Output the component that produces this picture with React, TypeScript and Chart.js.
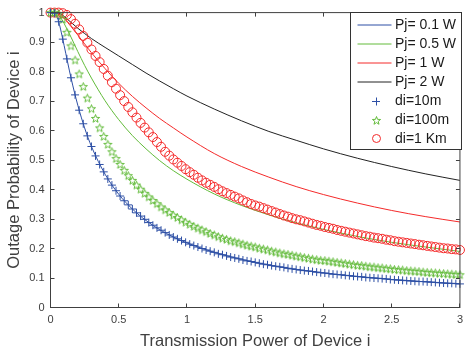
import React, { useEffect, useRef } from 'react';
import { Chart, registerables } from 'chart.js';

Chart.register(...registerables);

// ---- data ----
const lineX = [0, 0.02, 0.04, 0.06, 0.08, 0.1, 0.15, 0.2, 0.25, 0.3, 0.4, 0.5, 0.6, 0.7, 0.8, 0.9, 1.0, 1.2, 1.4, 1.6, 1.8, 2.0, 2.25, 2.5, 2.75, 3.0];
const pj01 = [1, 1.0, 0.993, 0.969, 0.931, 0.888, 0.779, 0.686, 0.609, 0.546, 0.452, 0.384, 0.334, 0.295, 0.264, 0.239, 0.219, 0.187, 0.163, 0.144, 0.129, 0.117, 0.105, 0.095, 0.087, 0.080];
const pj05 = [1, 1.0, 0.998, 0.991, 0.979, 0.963, 0.917, 0.868, 0.821, 0.778, 0.701, 0.637, 0.583, 0.538, 0.498, 0.464, 0.435, 0.385, 0.346, 0.314, 0.287, 0.265, 0.241, 0.221, 0.205, 0.190];
const pj1 = [1, 1.0, 0.999, 0.995, 0.989, 0.980, 0.953, 0.924, 0.894, 0.864, 0.810, 0.760, 0.716, 0.677, 0.641, 0.609, 0.578, 0.522, 0.478, 0.442, 0.410, 0.383, 0.354, 0.329, 0.308, 0.290];
const pj2 = [1, 1.0, 1.0, 0.998, 0.994, 0.987, 0.967, 0.947, 0.929, 0.912, 0.882, 0.853, 0.824, 0.795, 0.768, 0.742, 0.717, 0.673, 0.633, 0.597, 0.567, 0.538, 0.506, 0.478, 0.453, 0.431];

const markerX = [0, 0.03, 0.06, 0.09, 0.12, 0.15, 0.18, 0.21, 0.24, 0.27, 0.3, 0.33, 0.36, 0.39, 0.42, 0.45, 0.48, 0.51, 0.54, 0.57, 0.6, 0.63, 0.66, 0.69, 0.72, 0.75, 0.78, 0.81, 0.84, 0.87, 0.9, 0.93, 0.96, 0.99, 1.02, 1.05, 1.08, 1.11, 1.14, 1.17, 1.2, 1.23, 1.26, 1.29, 1.32, 1.35, 1.38, 1.41, 1.44, 1.47, 1.5, 1.53, 1.56, 1.59, 1.62, 1.65, 1.68, 1.71, 1.74, 1.77, 1.8, 1.83, 1.86, 1.89, 1.92, 1.95, 1.98, 2.01, 2.04, 2.07, 2.1, 2.13, 2.16, 2.19, 2.22, 2.25, 2.28, 2.31, 2.34, 2.37, 2.4, 2.43, 2.46, 2.49, 2.52, 2.55, 2.58, 2.61, 2.64, 2.67, 2.7, 2.73, 2.76, 2.79, 2.82, 2.85, 2.88, 2.91, 2.94, 2.97, 3];
const di10m = [1, 0.998, 0.969, 0.910, 0.843, 0.779, 0.721, 0.669, 0.623, 0.582, 0.546, 0.514, 0.485, 0.460, 0.436, 0.415, 0.396, 0.378, 0.362, 0.348, 0.334, 0.321, 0.310, 0.299, 0.288, 0.279, 0.270, 0.262, 0.254, 0.246, 0.239, 0.233, 0.227, 0.221, 0.215, 0.210, 0.205, 0.200, 0.195, 0.191, 0.187, 0.182, 0.179, 0.175, 0.171, 0.168, 0.165, 0.161, 0.158, 0.156, 0.153, 0.150, 0.147, 0.145, 0.142, 0.140, 0.138, 0.136, 0.133, 0.131, 0.129, 0.127, 0.125, 0.124, 0.122, 0.120, 0.118, 0.117, 0.115, 0.113, 0.112, 0.111, 0.109, 0.108, 0.106, 0.105, 0.104, 0.102, 0.101, 0.100, 0.099, 0.098, 0.097, 0.095, 0.094, 0.093, 0.092, 0.091, 0.090, 0.089, 0.088, 0.088, 0.087, 0.086, 0.085, 0.084, 0.083, 0.082, 0.082, 0.081, 0.080];
const di100m = [1, 1, 0.996, 0.977, 0.933, 0.887, 0.839, 0.792, 0.749, 0.710, 0.674, 0.641, 0.609, 0.580, 0.553, 0.528, 0.505, 0.485, 0.465, 0.447, 0.431, 0.415, 0.401, 0.387, 0.375, 0.363, 0.352, 0.341, 0.331, 0.322, 0.313, 0.305, 0.297, 0.289, 0.282, 0.275, 0.269, 0.263, 0.257, 0.251, 0.246, 0.240, 0.235, 0.231, 0.226, 0.223, 0.219, 0.215, 0.211, 0.208, 0.205, 0.201, 0.198, 0.195, 0.191, 0.188, 0.185, 0.182, 0.180, 0.177, 0.174, 0.172, 0.169, 0.167, 0.164, 0.162, 0.160, 0.159, 0.157, 0.155, 0.153, 0.151, 0.149, 0.147, 0.145, 0.143, 0.142, 0.140, 0.138, 0.137, 0.135, 0.134, 0.132, 0.131, 0.129, 0.128, 0.127, 0.125, 0.124, 0.123, 0.122, 0.120, 0.119, 0.118, 0.117, 0.116, 0.115, 0.114, 0.113, 0.112, 0.111];
const di1km = [1, 1, 1, 0.998, 0.992, 0.978, 0.962, 0.943, 0.921, 0.898, 0.875, 0.853, 0.832, 0.809, 0.786, 0.764, 0.742, 0.720, 0.700, 0.680, 0.662, 0.644, 0.626, 0.610, 0.594, 0.578, 0.561, 0.545, 0.528, 0.515, 0.502, 0.491, 0.480, 0.469, 0.459, 0.450, 0.440, 0.431, 0.423, 0.416, 0.409, 0.401, 0.394, 0.388, 0.382, 0.376, 0.370, 0.363, 0.357, 0.351, 0.346, 0.342, 0.337, 0.332, 0.327, 0.322, 0.317, 0.312, 0.308, 0.303, 0.299, 0.296, 0.292, 0.288, 0.284, 0.280, 0.277, 0.273, 0.270, 0.267, 0.263, 0.260, 0.257, 0.254, 0.251, 0.248, 0.245, 0.242, 0.240, 0.237, 0.235, 0.233, 0.230, 0.228, 0.225, 0.223, 0.221, 0.219, 0.217, 0.215, 0.213, 0.211, 0.209, 0.207, 0.205, 0.203, 0.201, 0.200, 0.198, 0.197, 0.195];

const xTicks = [0, 0.5, 1, 1.5, 2, 2.5, 3];
const xTickLabels = ['0', '0.5', '1', '1.5', '2', '2.5', '3'];
const yTicks = [0, 0.1, 0.2, 0.3, 0.4, 0.5, 0.6, 0.7, 0.8, 0.9, 1];
const yTickLabels = ['0', '0.1', '0.2', '0.3', '0.4', '0.5', '0.6', '0.7', '0.8', '0.9', '1'];

const lineLabels = ['Pj= 0.1 W', 'Pj= 0.5 W', 'Pj= 1 W', 'Pj= 2 W'];
const markerLabels = ['di=10m', 'di=100m', 'di=1 Km'];
const xTitle = 'Transmission Power of Device i';
const yTitle = 'Outage Probability of Device i';

// ---- styles ----
const BLUE = '#2d4fa5';
const GREEN = '#62bb3a';
const RED = '#f42a2a';
const BLACK = '#222222';
const AXIS = '#404040';
const FONT = "'Liberation Sans', Arial, Helvetica, sans-serif";

function makeStar(color: string): HTMLCanvasElement {
  const c = document.createElement('canvas');
  c.width = 11;
  c.height = 11;
  const g = c.getContext('2d')!;
  g.strokeStyle = color;
  g.lineWidth = 1;
  g.beginPath();
  const cx = 5.5, cy = 5.8, R = 4.3, r = 1.8;
  for (let i = 0; i < 10; i++) {
    const a = -Math.PI / 2 + (i * Math.PI) / 5;
    const rad = i % 2 ? r : R;
    const px = cx + rad * Math.cos(a);
    const py = cy + rad * Math.sin(a);
    if (i === 0) g.moveTo(px, py);
    else g.lineTo(px, py);
  }
  g.closePath();
  g.stroke();
  return c;
}

export default function App() {
  const ref = useRef<HTMLCanvasElement | null>(null);

  useEffect(() => {
    document.body.style.margin = '0';
    const canvas = ref.current;
    if (!canvas) return;
    const star = makeStar(GREEN);
    const pts = (xs: number[], ys: number[]) => xs.map((x, i) => ({ x, y: ys[i] }));

    const lineDs = (label: string, ys: number[], color: string) => ({
      label,
      data: pts(lineX, ys),
      showLine: true,
      borderColor: color,
      backgroundColor: color,
      borderWidth: 1,
      pointRadius: 0,
      cubicInterpolationMode: 'monotone',
      order: 2,
      kind: 'line',
    });
    const markerDs = (label: string, ys: number[], color: string, style: any, radius: number) => ({
      label,
      data: pts(markerX, ys),
      showLine: false,
      borderColor: color,
      backgroundColor: 'rgba(0,0,0,0)',
      borderWidth: 1,
      pointStyle: style,
      pointRadius: radius,
      pointHoverRadius: radius,
      clip: false,
      order: 1,
      kind: 'marker',
    });

    const datasets: any[] = [
      lineDs(lineLabels[0], pj01, BLUE),
      lineDs(lineLabels[1], pj05, GREEN),
      lineDs(lineLabels[2], pj1, RED),
      lineDs(lineLabels[3], pj2, BLACK),
      markerDs(markerLabels[0], di10m, BLUE, 'cross', 4),
      markerDs(markerLabels[1], di100m, GREEN, star, 4),
      markerDs(markerLabels[2], di1km, RED, 'circle', 4.5),
    ];

    const framePlugin = {
      id: 'frame',
      afterDatasetsDraw(chart: any) {
        const { ctx, chartArea } = chart;
        const { left, right, top, bottom } = chartArea;
        ctx.save();
        ctx.strokeStyle = AXIS;
        ctx.lineWidth = 1;
        ctx.strokeRect(left, top, right - left, bottom - top);
        const tl = 4;
        ctx.beginPath();
        const xs = chart.scales.x;
        xTicks.forEach((v) => {
          const p = Math.round(xs.getPixelForValue(v) - 0.5) + 0.5;
          ctx.moveTo(p, bottom);
          ctx.lineTo(p, bottom - tl);
          ctx.moveTo(p, top);
          ctx.lineTo(p, top + tl);
        });
        const ys = chart.scales.y;
        yTicks.forEach((v) => {
          const p = Math.round(ys.getPixelForValue(v) - 0.5) + 0.5;
          ctx.moveTo(left, p);
          ctx.lineTo(left + tl, p);
          ctx.moveTo(right, p);
          ctx.lineTo(right - tl, p);
        });
        ctx.stroke();
        ctx.restore();
      },
    };

    const legendPlugin = {
      id: 'boxLegend',
      afterDraw(chart: any) {
        const { ctx } = chart;
        const bx = 350.5, by = 12.5, bw = 111, bh = 137;
        ctx.save();
        ctx.fillStyle = '#ffffff';
        ctx.fillRect(bx, by, bw, bh);
        ctx.strokeStyle = '#333333';
        ctx.lineWidth = 1;
        ctx.strokeRect(bx, by, bw, bh);
        const rowStart = 25;
        const rowStep = 18.9;
        ctx.font = `14px ${FONT}`;
        ctx.textBaseline = 'middle';
        ctx.textAlign = 'left';
        chart.data.datasets.forEach((ds: any, i: number) => {
          const y = rowStart + i * rowStep;
          const yl = Math.round(y);
          ctx.strokeStyle = ds.borderColor;
          ctx.lineWidth = 1;
          if (ds.kind === 'line') {
            ctx.beginPath();
            ctx.moveTo(357.5, yl);
            ctx.lineTo(391.5, yl);
            ctx.stroke();
          } else {
            const cx = 376;
            if (ds.pointStyle === 'cross') {
              ctx.beginPath();
              ctx.moveTo(cx - 4, yl + 0.5);
              ctx.lineTo(cx + 4, yl + 0.5);
              ctx.moveTo(cx + 0.5, yl - 3.5);
              ctx.lineTo(cx + 0.5, yl + 4.5);
              ctx.stroke();
            } else if (ds.pointStyle === 'circle') {
              ctx.beginPath();
              ctx.arc(cx + 0.5, yl + 0.5, 4, 0, Math.PI * 2);
              ctx.stroke();
            } else {
              const img = ds.pointStyle as HTMLCanvasElement;
              ctx.drawImage(img, cx + 0.5 - img.width / 2, yl + 0.5 - img.height / 2);
            }
          }
          ctx.fillStyle = '#1a1a1a';
          ctx.fillText(ds.label, 395, y + 0.5);
        });
        ctx.restore();
      },
    };

    const chart = new Chart(canvas, {
      type: 'scatter',
      data: { datasets },
      options: {
        responsive: false,
        animation: false,
        events: [],
        layout: { padding: { top: 9.5, right: 2.5, left: 0, bottom: 0 } },
        plugins: { legend: { display: false }, tooltip: { enabled: false } },
        scales: {
          x: {
            type: 'linear',
            min: 0,
            max: 3,
            afterBuildTicks: (s: any) => {
              s.ticks = xTicks.map((v) => ({ value: v }));
            },
            afterFit: (s: any) => {
              s.height = 46.5;
            },
            grid: { display: false, drawTicks: false },
            border: { display: false },
            ticks: {
              padding: 6,
              color: AXIS,
              font: { family: FONT, size: 11 },
              maxRotation: 0,
              autoSkip: false,
              callback: (v: any) => {
                const i = xTicks.indexOf(Number(v));
                return i >= 0 ? xTickLabels[i] : '';
              },
            },
            title: {
              display: true,
              text: xTitle,
              color: AXIS,
              font: { family: FONT, size: 16.5 },
              padding: { top: 0, bottom: 3 },
            },
          },
          y: {
            type: 'linear',
            min: 0,
            max: 1,
            afterBuildTicks: (s: any) => {
              s.ticks = yTicks.map((v) => ({ value: v }));
            },
            afterFit: (s: any) => {
              s.width = 50.5;
            },
            grid: { display: false, drawTicks: false },
            border: { display: false },
            ticks: {
              padding: 6,
              color: AXIS,
              font: { family: FONT, size: 11 },
              autoSkip: false,
              callback: (v: any) => {
                const i = yTicks.findIndex((t) => Math.abs(t - Number(v)) < 1e-9);
                return i >= 0 ? yTickLabels[i] : '';
              },
            },
            title: {
              display: true,
              text: yTitle,
              color: AXIS,
              font: { family: FONT, size: 16.5 },
              padding: { top: 5, bottom: 0 },
            },
          },
        },
      } as any,
      plugins: [framePlugin, legendPlugin],
    });

    return () => {
      chart.destroy();
    };
  }, []);

  return (
    <div style={{ width: 469, height: 354 }}>
      <canvas ref={ref} width={469} height={354} style={{ display: 'block', width: 469, height: 354 }} />
    </div>
  );
}
